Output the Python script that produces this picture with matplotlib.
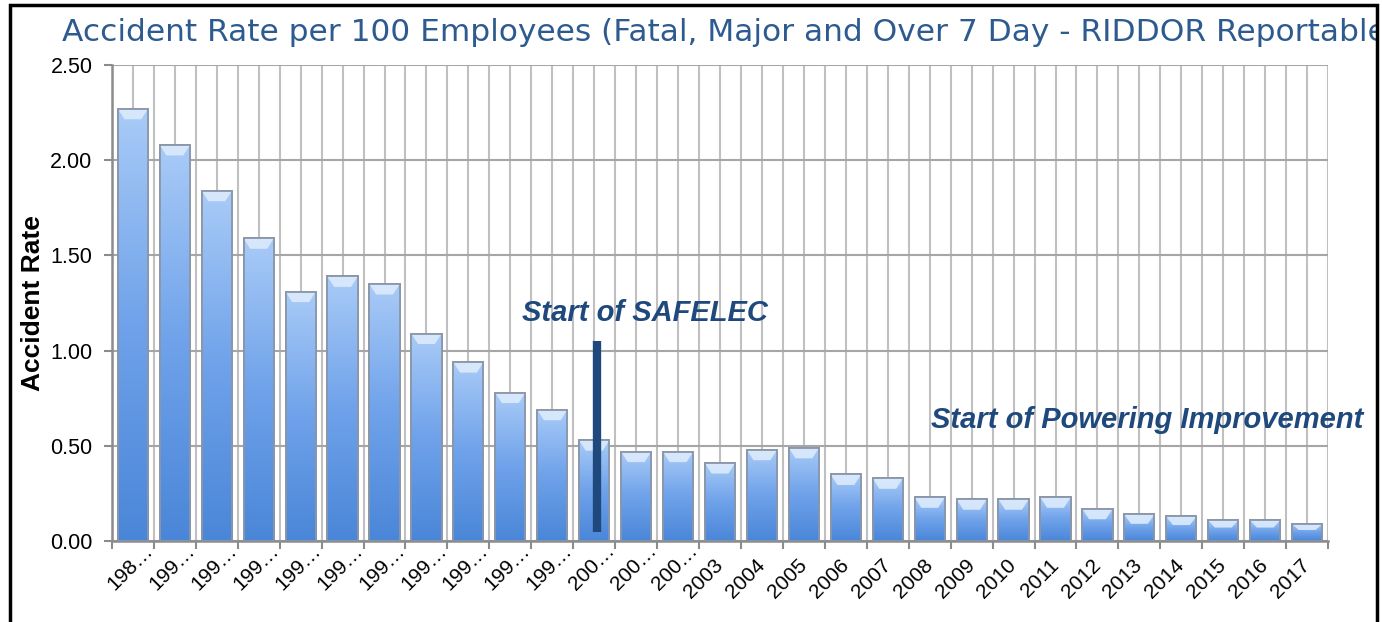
import numpy as np
import matplotlib.pyplot as plt
from matplotlib.patches import Rectangle, Polygon
from matplotlib.colors import LinearSegmentedColormap
from matplotlib.transforms import ScaledTranslation

# data
labels = ['198…'] + ['199…'] * 10 + ['200…'] * 3 + [str(y) for y in range(2003, 2018)]
rates = [2.27, 2.08, 1.84, 1.59, 1.31, 1.39, 1.35, 1.09, 0.94, 0.78, 0.69, 0.53,
         0.47, 0.47, 0.41, 0.48, 0.49, 0.35, 0.33, 0.23, 0.22, 0.22, 0.23, 0.17,
         0.14, 0.13, 0.11, 0.11, 0.09]
safelec_idx = 11
safelec_span = (0.05, 1.05)

plt.rcParams['font.family'] = ['Liberation Sans', 'DejaVu Sans']

fig = plt.figure(figsize=(13.82, 6.22), dpi=100)
ax = fig.add_axes([0.081, 0.130, 0.880, 0.7655])

x = np.arange(len(rates))
w = 0.72
bars = ax.bar(x, rates, width=w, color='#5b93e0', edgecolor='#8a96a8', linewidth=1.2, zorder=3)

# gradient fill for each bar
cmap = LinearSegmentedColormap.from_list('b', ['#4a86d8', '#6fa2ea', '#a9cbf7'])
grad = np.linspace(0, 1, 256).reshape(-1, 1)
for b in bars:
    x0, y0 = b.get_x(), b.get_y()
    bw, bh = b.get_width(), b.get_height()
    im = ax.imshow(grad, cmap=cmap, aspect='auto', origin='lower',
                   extent=[x0, x0 + bw, y0, y0 + bh], zorder=3.5)
    im.set_clip_path(b)
    # light bevel on top
    cap = min(0.055, bh * 0.35)
    top = y0 + bh
    ax.add_patch(Polygon([(x0, top), (x0 + bw, top), (x0 + bw * 0.78, top - cap),
                          (x0 + bw * 0.22, top - cap)], closed=True,
                         facecolor='#dcebfd', edgecolor='none', alpha=0.9, zorder=3.6))
    ax.add_patch(Rectangle((x0, y0), bw, bh, facecolor='none',
                           edgecolor='#8a96a8', linewidth=1.3, zorder=3.7))

ax.set_xlim(-0.5, len(rates) - 0.5)
ax.set_ylim(0, 2.5)
ax.set_yticks(np.arange(0, 2.51, 0.5))
ax.set_yticklabels([f'{v:.2f}' for v in np.arange(0, 2.51, 0.5)], fontsize=15.5)
ax.set_xticks(x)
ax.set_xticklabels(labels, rotation=45, ha='right', va='center', rotation_mode='anchor', fontsize=15)
ax.set_xticks(np.arange(-0.5, len(rates)), minor=True)
ax.tick_params(axis='x', which='major', length=0, pad=15)
ax.tick_params(axis='x', which='minor', length=6, color='#8c8c8c', width=1.5)
ax.tick_params(axis='y', length=6, color='#8c8c8c', width=1.5, pad=8)

# truncated labels sit further up-right in the original
for lbl in ax.get_xticklabels():
    if lbl.get_text().endswith('…'):
        lbl.set_transform(lbl.get_transform() + ScaledTranslation(0.17, 0.14, fig.dpi_scale_trans))

ax.grid(axis='x', which='both', color='#c0c0c0', linewidth=1.5, zorder=0)
ax.grid(axis='y', color='#a6a6a6', linewidth=1.5, zorder=0)
ax.set_axisbelow(True)
for s in ['top', 'right']:
    ax.spines[s].set_visible(False)
for s in ['left', 'bottom']:
    ax.spines[s].set_color('#8c8c8c')
    ax.spines[s].set_linewidth(1.8)

ax.set_ylabel('Accident Rate', fontsize=19, fontweight='bold', labelpad=4)

# annotations
ax.vlines(x[safelec_idx] + 0.07, *safelec_span, color='#1f497d', linewidth=6, zorder=5)
ax.text(x[safelec_idx] + 1.2, 1.20, 'Start of SAFELEC', fontsize=21, fontweight='bold',
        fontstyle='italic', color='#1f497d', ha='center', va='center', zorder=6)
ax.text(x[19] + 0.02, 0.635, 'Start of Powering Improvement', fontsize=21, fontweight='bold',
        fontstyle='italic', color='#1f497d', ha='left', va='center', zorder=6,
        clip_on=False)

fig.text(0.045, 0.948, 'Accident Rate per 100 Employees (Fatal, Major and Over 7 Day - RIDDOR Reportable)',
         fontsize=22.5, color='#2e5b8f', family='DejaVu Sans', va='center', ha='left')

# mask beyond the frame and draw the frame
fig.patches.append(Rectangle((0.9963, 0), 0.01, 1, transform=fig.transFigure,
                             facecolor='white', edgecolor='none', zorder=10))
fig.patches.append(Rectangle((0.0075, -0.05), 0.9888, 1.042, transform=fig.transFigure,
                             facecolor='none', edgecolor='black', linewidth=2.5, zorder=11))

fig.savefig('out.png', dpi=100)
